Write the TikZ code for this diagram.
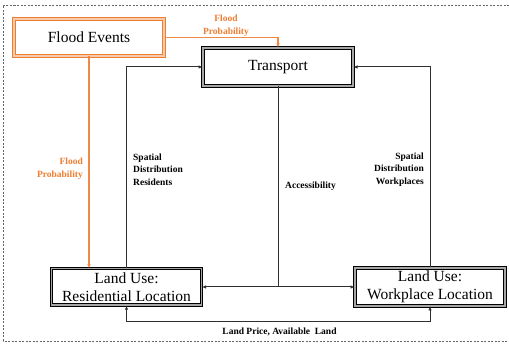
\documentclass[tikz,border=0pt]{standalone}
\usepackage{fontspec}
\setmainfont{Liberation Serif}
\usetikzlibrary{arrows.meta}
\definecolor{floodorange}{HTML}{ED7D31}
\definecolor{floodlight}{HTML}{F8CBAD}
\definecolor{linegray}{HTML}{303030}
\begin{document}
\begin{tikzpicture}[x=1pt,y=-1pt,
  box/.style={rectangle, draw=black, line width=1pt, double=gray!70, double distance=1.5pt,
    fill=white, minimum width=150pt, minimum height=38pt, align=center,
    font=\fontsize{15.5}{18.5}\selectfont, inner sep=0pt},
  floodbox/.style={box, draw=floodorange, double=floodlight},
  lbl/.style={font=\fontsize{9.5}{12.7}\selectfont\bfseries, inner sep=0pt},
  olbl/.style={lbl, text=floodorange},
  conn/.style={draw=linegray, line width=1pt},
  oconn/.style={draw=floodorange!90, line width=1.3pt},
  arr/.style={-{Latex[length=4pt,width=3.5pt]}},
  darr/.style={{Latex[length=4pt,width=3.5pt]}-{Latex[length=4pt,width=3.5pt]}}
]
\useasboundingbox (0,0) rectangle (509,344);
% dashed frame
\draw[gray!80!black, line width=0.6pt, dash pattern=on 2pt off 1.5pt]
  (509,5) -- (3,5) -- (3,341) -- (509,341);

% boxes
\node[floodbox, minimum height=37pt] (flood) at (89,37.5) {Flood Events};
\node[box] (transport) at (278,67) {Transport};
\node[box, minimum height=36.5pt] (res) at (126.5,287) {Land Use:\\Residential Location};
\node[box] (work) at (430,287) {Land Use:\\Workplace Location};

% orange connectors
\draw[oconn, arr] (flood.east |- flood.center) -| (transport.north);
\draw[oconn, arr] (flood.south) -- (flood.south |- res.north);

% spatial distribution
\draw[conn, arr] (res.north) |- (transport.west);
\draw[conn, arr] (work.north) |- (transport.east);

% accessibility
\coordinate (acc) at (transport.south |- res.east);
\draw[conn] (transport.south) -- (acc);
\draw[conn, arr] (acc) -- (res.east);
\draw[conn, arr] (acc) -- (work.west);

% land price
\coordinate (lpy) at (0,322);
\draw[conn, darr] (res.south) -- (res.south |- lpy) -| (work.south);

% labels
\node[olbl, align=center] (fp1) at (226,25.5) {Flood\\Probability};
\node[olbl, align=right, anchor=east] (fp2) at (83,169) {Flood\\Probability};
\node[lbl, align=left, anchor=west] (sdr) at (133,169.7) {Spatial\\Distribution\\Residents};
\node[lbl, align=right, anchor=east] (sdw) at (424,169.5) {Spatial\\Distribution\\Workplaces};
\node[lbl, anchor=west] (accl) at (285,186.7) {Accessibility};
\node[lbl] (lpl) at (279.5,331.5) {Land Price, Available\ \ Land};
\end{tikzpicture}
\end{document}
